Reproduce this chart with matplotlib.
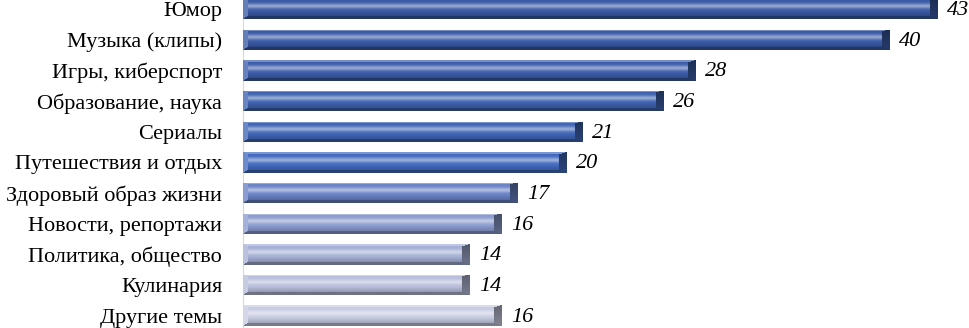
import numpy as np
import matplotlib
matplotlib.use("Agg")
import matplotlib.pyplot as plt
from matplotlib.colors import to_rgb

categories = ["Юмор", "Музыка (клипы)", "Игры, киберспорт", "Образование, наука",
              "Сериалы", "Путешествия и отдых", "Здоровый образ жизни",
              "Новости, репортажи", "Политика, общество", "Кулинария", "Другие темы"]
values = [43, 40, 28, 26, 21, 20, 17, 16, 14, 14, 16]
bar_colors = ["#3a5aa6", "#3a5aa6", "#3c5eab", "#3e62af", "#4066b6", "#436bbf",
              "#6a82c6", "#8b9ccf", "#a6b0d6", "#b8bedc", "#c8cce2"]

plt.rcParams['font.family'] = ['Liberation Serif', 'DejaVu Serif']

fig = plt.figure(figsize=(9.7, 3.28), dpi=100)
ax = fig.add_axes([243 / 970, 0, 1 - 243 / 970, 1])
n = len(categories)
ypos = np.arange(n)
h = 0.67
YLIM = (10.40, -0.30)
ax.set_xlim(0, 45.0)
ax.set_ylim(*YLIM)

bars = ax.barh(ypos, values, height=h, color=bar_colors, edgecolor='none', zorder=2)


def lighten(c, a):
    return c + (1 - c) * a


def darken(c, a):
    return c * (1 - a)


fig.canvas.draw()
for b, v, col in zip(bars, values, bar_colors):
    x0, y0 = ax.transData.transform((0, b.get_y()))
    x1, y1 = ax.transData.transform((v, b.get_y() + b.get_height()))
    L = max(int(round(abs(x1 - x0))), 2)
    H = max(int(round(abs(y1 - y0))), 2)
    base = np.array(to_rgb(col))
    img = np.zeros((H, L, 3))
    bT, bB, bL, bR = 2.5, 3.5, 5.0, 8.0
    for r in range(H):
        t = (r + 0.5) / H
        f = 0.45 * np.exp(-((t - 0.38) / 0.12) ** 2)
        cint = lighten(base, f)
        if t > 0.6:
            cint = darken(cint, (t - 0.6) / 0.4 * 0.3)
        for c in range(L):
            dT = (r + 0.5) / bT
            dB = (H - r - 0.5) / bB
            dL = (c + 0.5) / bL
            dR = (L - c - 0.5) / bR
            m = min(dT, dB, dL, dR)
            if m >= 1:
                img[r, c] = cint
            elif m == dT:
                img[r, c] = lighten(base, 0.3)
            elif m == dB:
                img[r, c] = darken(base, 0.4)
            elif m == dL:
                img[r, c] = lighten(base, 0.22)
            else:
                img[r, c] = darken(base, 0.5 - 0.15 * t)
    im = ax.imshow(img, extent=(0, v, b.get_y() + b.get_height(), b.get_y()),
                   origin='upper', aspect='auto', interpolation='bilinear', zorder=3)
    im.set_clip_path(b)

ax.set_xlim(0, 45.0)
ax.set_ylim(*YLIM)

for y, v in zip(ypos, values):
    ax.annotate(f"{v}", xy=(v, y), xytext=(7, -1), textcoords='offset points',
                ha='left', va='center', fontsize=16, fontstyle='italic', color='black')

ax.set_yticks(ypos)
ax.set_yticklabels(categories, fontsize=16)
ax.tick_params(axis='y', length=0, pad=15)
ax.set_xticks([])
for s in ['top', 'right', 'bottom']:
    ax.spines[s].set_visible(False)
ax.spines['left'].set_color('#d9d9d9')
ax.spines['left'].set_linewidth(0.8)
ax.set_facecolor('white')

fig.savefig("out.png", dpi=100, facecolor='white')
